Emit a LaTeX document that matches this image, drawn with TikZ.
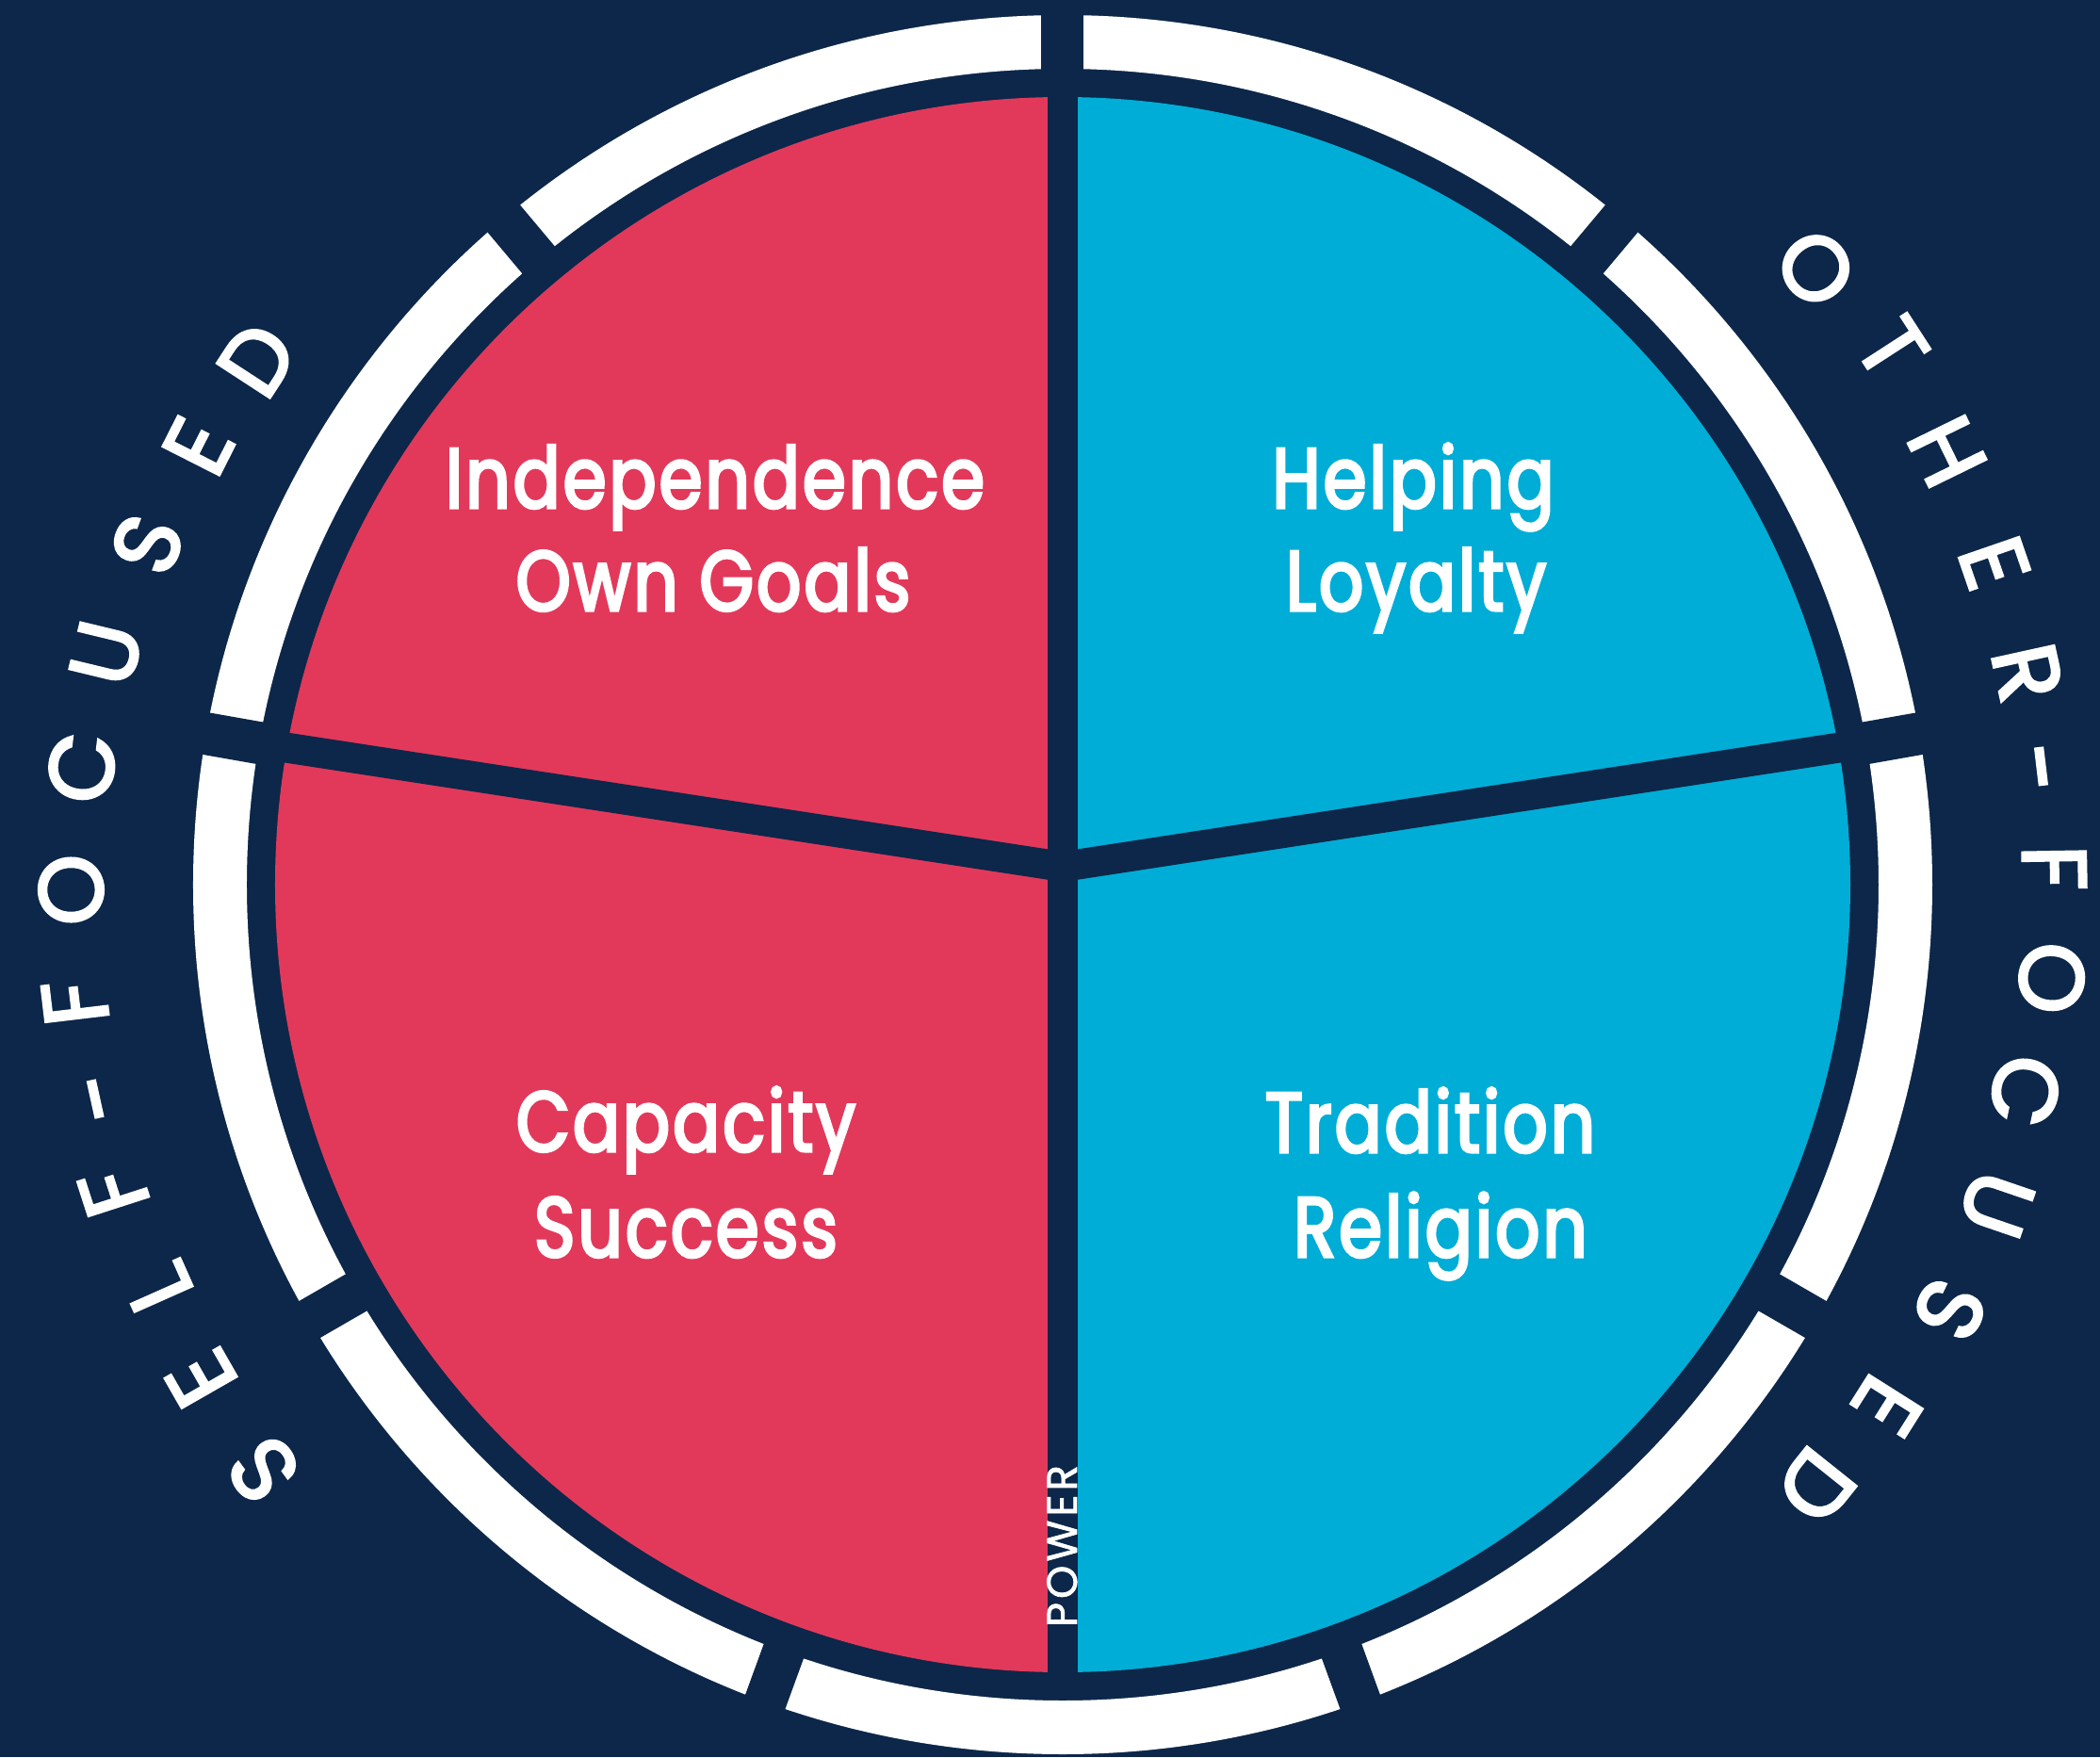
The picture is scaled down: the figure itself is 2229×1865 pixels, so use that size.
\documentclass[tikz,border=0pt]{standalone}
\usepackage{fontspec}
\setmainfont{Poppins}
\newfontfamily\labelfont{Poppins}[FakeBold=3.5, FakeStretch=0.82, LetterSpace=3.5]
\newfontfamily\arcfont{Poppins}[FakeBold=3]
\newfontfamily\axisfont{Poppins}[FakeBold=1.5, LetterSpace=9]
\begin{document}
\begin{tikzpicture}[x=0.5pt,y=0.5pt]
\definecolor{navy}{HTML}{0C2749}
\definecolor{rosered}{HTML}{E2395B}
\definecolor{skyblue}{HTML}{00ADD6}
\tikzset{
  ringgap/.style={draw=navy, line width=22.5pt},
  divider/.style={draw=navy, line width=16pt},
  quadlabel/.style={text=white, font=\labelfont\fontsize{45}{54}\selectfont, anchor=base, inner sep=0pt},
  arcletter/.style={text=white, font=\arcfont\fontsize{48}{58}\selectfont, anchor=base, inner sep=0pt},
  axislabel/.style={text=white, font=\axisfont\fontsize{22.5}{27}\selectfont, anchor=base, inner sep=0pt},
}
% background
\fill[navy] (-1128,-926) rectangle (1101,939);
\useasboundingbox (-1128,-926) rectangle (1101,939);

% outer white ring, cut into nine segments
\draw[white, line width=28.5pt] (0,0) circle[radius=894.5];
\foreach \a in {90,50,...,-230}
  \draw[ringgap] (\a:845) -- (\a:950);

% the two halves of the disc
\fill[rosered] (0,836) arc[start angle=90, end angle=270, radius=836] -- cycle;
\fill[skyblue] (0,836) arc[start angle=90, end angle=-90, radius=836] -- cycle;

% dividing bars
\coordinate (hub) at (0,19);
\coordinate (topend) at (0,845);
\coordinate (botend) at (0,-845);
\coordinate (leftend) at (-880,154);
\coordinate (rightend) at (880,154);
\draw[divider] (topend) -- (botend);
\draw[divider] (hub) -- (leftend);
\draw[divider] (hub) -- (rightend);

% quadrant labels
\node[quadlabel] (ind) at (-369,400) {Independence};
\node[quadlabel] (own) at (-371,291) {Own Goals};
\node[quadlabel] (hlp) at (372,400) {Helping};
\node[quadlabel] (loy) at (375,291) {Loyalty};
\node[quadlabel] (cap) at (-400,-283) {Capacity};
\node[quadlabel] (suc) at (-400,-395) {Success};
\node[quadlabel] (tra) at (390,-284) {Tradition};
\node[quadlabel] (rel) at (401,-395) {Religion};

% vertical axis label
\node[axislabel, rotate=90] (power) at (15,-702) {POWER};

% curved captions
\foreach \ch/\ang/\rad [count=\i] in {S/216.2/1052.8, E/209.8/1055.4, L/204.0/1052.3, F/197.9/1060,
  -/192.4/1051.6, F/186.8/1057.2, O/180.3/1054.1, C/173.2/1050.1, U/166.4/1046.6,
  S/159.6/1038.2, E/153.1/1030.2, D/146.9/1022.3}
  \node[arcletter, rotate=\ang-90] (self\i) at (\ang:\rad-35) {\ch};
\foreach \ch/\ang/\rad [count=\i] in {O/39.3/1034.5, T/32.9/1050, H/26.1/1046.9, E/19.05/1047.6,
  R/12.4/1050.1, -/6.8/1045.9, F/0.97/1054.2, O/-5.4/1055.9, C/-12.1/1046.2,
  U/-18.9/1049.7, S/-25.6/1045.7, E/-32.3/1036.6, D/-38.6/1024.7}
  \node[arcletter, rotate=\ang-90] (other\i) at (\ang:\rad-35) {\ch};
\end{tikzpicture}
\end{document}
